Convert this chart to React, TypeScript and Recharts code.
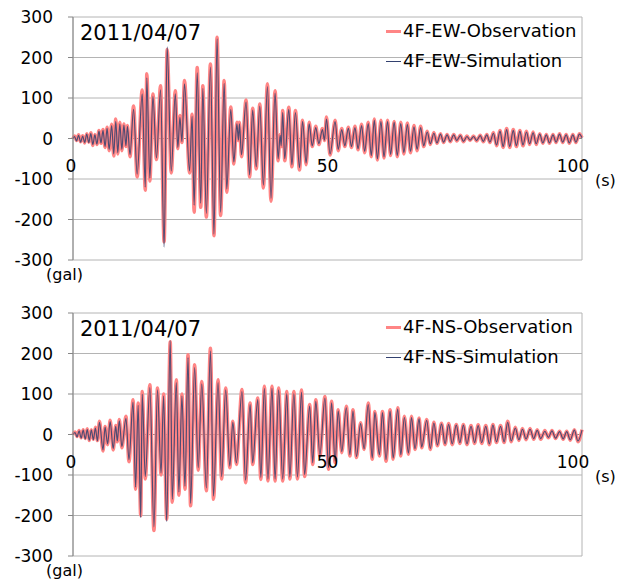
import React from 'react';
import { LineChart, Line, XAxis, YAxis, CartesianGrid, ReferenceLine, ReferenceDot } from 'recharts';

const FONT = '"DejaVu Sans", sans-serif';

// 4F EW record (time in s, acceleration in gal)
const ewTime = [
  0, 0.3, 0.7, 1.1, 1.5, 1.9, 2.3, 2.7, 3.1, 3.5,
  3.9, 4.3, 4.7, 5.1, 5.5, 5.9, 6.3, 6.7, 7.1, 7.6,
  8.0, 8.4, 8.8, 9.2, 9.6, 10.0, 10.4, 10.7, 11.2, 11.9,
  12.6, 13.6, 14.2, 14.5, 15.1, 15.7, 16.4, 17.2, 17.9, 18.5,
  19.3, 20.1, 20.6, 21.0, 21.4, 21.9, 22.9, 23.4, 23.8, 24.4,
  25.1, 25.5, 26.2, 27.0, 27.7, 28.3, 29.0, 29.7, 30.2, 31.0,
  31.6, 32.2, 32.5, 32.7, 33.1, 34.0, 34.7, 35.3, 36.0, 36.7,
  37.4, 38.2, 38.9, 39.7, 40.3, 40.7, 40.9, 41.2, 41.6, 42.4,
  43.0, 43.7, 44.5, 45.1, 45.8, 46.4, 47.0, 47.7, 48.3, 49.0,
  49.4, 49.8, 50.5, 51.5, 52.1, 52.8, 53.4, 54.1, 54.7, 55.4,
  56.0, 56.7, 57.3, 58.0, 58.6, 59.2, 59.8, 60.5, 61.1, 61.8,
  62.4, 63.1, 63.7, 64.4, 65.0, 65.7, 66.3, 67.0, 67.6, 68.3,
  68.9, 69.6, 70.2, 70.9, 71.5, 72.2, 72.8, 73.5, 74.1, 74.8,
  75.4, 76.1, 76.7, 77.4, 78.0, 78.7, 79.3, 80.0, 80.6, 81.3,
  81.9, 82.6, 83.2, 83.9, 84.5, 85.2, 85.8, 86.5, 87.1, 87.8,
  88.4, 89.1, 89.7, 90.4, 91.0, 91.7, 92.3, 93.0, 93.6, 94.3,
  94.9, 95.6, 96.2, 96.9, 97.5, 98.2, 98.8, 99.5, 100,
];
const ewObs = [
  0, 6, -5, 9, -8, 7, -11, 12, -9, 14,
  -17, 10, -15, 20, -12, 22, -22, 28, -30, 35,
  -43, 48, -38, 40, -30, 36, -20, 32, -45, 80,
  -95, 120, -128, 160, -105, 110, -52, 130, -255, 220,
  -85, 118, -25, 57, -10, 143, -85, 60, -182, 175,
  -170, 130, -194, 184, -240, 250, -190, 143, -133, 78,
  -63, 40, -5, 40, -45, 95, -95, 75, -75, 85,
  -122, 135, -155, 118, -55, 10, -20, 69, -55, 77,
  -70, 69, -78, 45, -65, 40, -20, 30, -15, 25,
  -5, 53, -41, 45, -30, 25, -20, 28, -22, 30,
  -28, 35, -35, 40, -45, 48, -53, 45, -48, 45,
  -42, 42, -45, 40, -38, 38, -35, 32, -30, 30,
  -20, 18, -15, 15, -12, 12, -10, 10, -8, 10,
  -6, 8, -8, 6, -5, 6, -6, 8, -8, 10,
  -10, 15, -18, 20, -22, 25, -22, 22, -20, 20,
  -18, 18, -15, 16, -15, 12, -12, 10, -12, 10,
  -10, 12, -10, 10, -12, 10, -10, 12, 2,
];
const ewSim = [
  0, 5, -6, 8, -9, 6, -10, 11, -10, 12,
  -15, 9, -14, 18, -11, 20, -20, 25, -27, 32,
  -38, 42, -35, 36, -27, 33, -18, 30, -40, 72,
  -88, 110, -120, 150, -98, 104, -48, 120, -268, 226,
  -80, 110, -22, 52, -8, 135, -80, 55, -165, 162,
  -160, 124, -185, 176, -236, 246, -182, 136, -125, 72,
  -58, 36, -4, 36, -40, 90, -90, 70, -70, 80,
  -115, 128, -148, 112, -50, 8, -18, 64, -50, 72,
  -65, 64, -72, 42, -60, 36, -18, 27, -13, 22,
  -4, 48, -38, 42, -27, 22, -18, 25, -20, 27,
  -25, 32, -32, 37, -42, 45, -50, 42, -45, 42,
  -39, 40, -42, 37, -35, 35, -32, 29, -27, 27,
  -18, 16, -13, 13, -11, 11, -9, 9, -7, 9,
  -5, 7, -7, 5, -4, 5, -5, 7, -7, 9,
  -9, 13, -16, 18, -20, 22, -20, 20, -18, 18,
  -16, 16, -13, 14, -13, 11, -11, 9, -11, 9,
  -9, 11, -9, 9, -11, 9, -9, 11, 2,
];

// 4F NS record
const nsTime = [
  0, 0.4, 0.8, 1.2, 1.6, 2.0, 2.4, 2.8, 3.2, 3.6,
  4.0, 4.4, 4.8, 5.2, 5.9, 6.3, 6.8, 7.3, 7.9, 8.4,
  8.7, 9.1, 9.6, 10.4, 11.0, 11.8, 12.3, 12.8, 13.3, 13.6,
  14.2, 15.1, 15.9, 16.6, 17.3, 17.8, 18.4, 19.1, 19.5, 20.3,
  20.8, 21.4, 22.0, 22.6, 23.1, 23.9, 24.6, 25.3, 26.2, 27.0,
  27.6, 28.5, 29.2, 30.0, 30.8, 31.4, 32.1, 33.2, 33.9, 34.8,
  35.3, 36.3, 36.9, 37.6, 38.3, 39.1, 39.7, 40.4, 41.2, 42.0,
  42.6, 43.4, 44.1, 44.9, 45.5, 46.5, 47.1, 47.7, 48.5, 49.5,
  50.2, 50.8, 51.5, 52.1, 52.8, 53.7, 54.4, 55.0, 55.7, 56.5,
  57.2, 58.0, 58.8, 59.3, 60.2, 60.8, 61.5, 62.3, 62.9, 63.8,
  64.4, 65.1, 65.9, 66.5, 67.2, 68.0, 68.5, 69.5, 70.2, 70.9,
  71.6, 72.4, 73.1, 73.8, 74.5, 75.3, 76.0, 76.7, 77.4, 78.2,
  78.9, 79.6, 80.3, 81.1, 81.8, 82.5, 83.2, 84.0, 84.7, 85.4,
  86.1, 86.9, 87.6, 88.3, 89.0, 89.8, 90.5, 91.2, 91.9, 92.7,
  93.4, 94.1, 94.8, 95.6, 96.3, 97.0, 97.7, 98.5, 99.2, 100,
];
const nsObs = [
  0, 6, -5, 10, -8, 12, -10, 14, -15, 12,
  -12, 18, -15, 33, -41, 20, -25, 35, -38, 22,
  -18, 37, -33, 45, -67, 86, -135, 78, -200, 106,
  -110, 123, -237, 115, -100, 100, -209, 229, -167, 135,
  -150, 100, -135, 197, -176, 172, -88, 131, -139, 213,
  -160, 135, -110, 115, -82, 33, -74, 111, -119, 78,
  -74, 90, -111, 119, -115, 119, -115, 115, -115, 106,
  -110, 106, -110, 110, -104, 74, -74, 86, -53, 94,
  -86, 82, -70, 61, -45, 70, -53, 61, -57, 29,
  -37, 78, -61, 57, -53, 57, -66, 61, -61, 66,
  -53, 45, -49, 45, -37, 41, -33, 37, -37, 30,
  -28, 28, -25, 27, -25, 25, -22, 25, -25, 22,
  -22, 24, -22, 22, -25, 25, -20, 22, -20, 33,
  -18, 18, -15, 15, -13, 15, -12, 12, -12, 10,
  -8, 10, -10, 8, -12, 8, -14, 12, -18, 12,
];
const nsSim = [
  0, 5, -6, 9, -9, 11, -11, 12, -14, 11,
  -13, 16, -16, 30, -38, 18, -23, 32, -35, 20,
  -16, 34, -30, 40, -62, 80, -130, 72, -205, 100,
  -104, 116, -228, 110, -95, 95, -215, 232, -160, 128,
  -142, 95, -128, 190, -170, 165, -82, 125, -132, 206,
  -152, 128, -104, 110, -78, 30, -70, 106, -113, 74,
  -70, 86, -106, 114, -110, 114, -110, 110, -110, 101,
  -105, 101, -105, 105, -99, 70, -70, 82, -50, 90,
  -82, 78, -66, 58, -42, 66, -50, 58, -54, 27,
  -35, 74, -58, 54, -50, 54, -62, 58, -58, 63,
  -50, 42, -46, 42, -35, 39, -31, 35, -35, 28,
  -26, 26, -23, 25, -23, 23, -20, 23, -23, 20,
  -20, 22, -20, 20, -23, 23, -18, 20, -18, 30,
  -16, 16, -13, 13, -11, 13, -10, 10, -10, 8,
  -7, 9, -9, 7, -11, 7, -13, 11, -16, 11,
];

const yTicks = [-300, -200, -100, 0, 100, 200, 300];
const xGrid = [0, 25, 50, 75, 100];
const xLabels = [0, 50, 100];
const dateLabel = '2011/04/07';

const OBS_COLOR = '#ff8585';
const SIM_COLOR = '#33416f';

const xLabelShift = (v) => (v === 0 ? -2 : v === 100 ? -9 : 0);

const Panel = ({ top, time, obs, sim, obsName, simName }) => {
  const data = time.map((t, i) => ({ t, obs: obs[i], sim: sim[i] }));
  return (
    <div style={{ position: 'absolute', left: 0, top, width: 629, height: 290 }}>
      <LineChart width={629} height={290} data={data} margin={{ top: 17, right: 47, bottom: 30, left: 0 }}>
        <CartesianGrid stroke="#b4b4b4" />
        <XAxis
          type="number"
          dataKey="t"
          domain={[0, 100]}
          ticks={xGrid}
          tick={false}
          tickLine={false}
          axisLine={false}
          height={0}
        />
        <YAxis
          type="number"
          domain={[-300, 300]}
          ticks={yTicks}
          interval={0}
          width={73}
          tickSize={5}
          tickMargin={15}
          tick={{ fontSize: 17, fill: '#000', fontFamily: FONT }}
          axisLine={{ stroke: '#868686' }}
          tickLine={{ stroke: '#868686' }}
        />
        <ReferenceLine y={0} stroke="#868686" />
        <Line type="monotone" dataKey="obs" stroke={OBS_COLOR} strokeWidth={3.5} dot={false} isAnimationActive={false} />
        <Line type="monotone" dataKey="sim" stroke={SIM_COLOR} strokeWidth={1.2} strokeOpacity={0.85} dot={false} isAnimationActive={false} />
        {xLabels.map((v) => (
          <ReferenceDot
            key={v}
            x={v}
            y={0}
            r={0}
            shape={(p) => (
              <g>
                <text x={p.cx + xLabelShift(v)} y={p.cy + 33} textAnchor="middle" fontSize={17} fontFamily={FONT} fill="#000">
                  {v}
                </text>
                {v === 100 && (
                  <text x={p.cx + 13} y={p.cy + 47} fontSize={16} fontFamily={FONT} fill="#000">
                    (s)
                  </text>
                )}
              </g>
            )}
          />
        ))}
      </LineChart>
      <div style={{ position: 'absolute', left: 80, top: 21, fontSize: 21, lineHeight: '24px', fontFamily: FONT }}>
        {dateLabel}
      </div>
      <div style={{ position: 'absolute', left: 386, top: 21, fontSize: 18, lineHeight: '20px', fontFamily: FONT }}>
        <div style={{ display: 'flex', alignItems: 'center', height: 20 }}>
          <span style={{ display: 'inline-block', width: 15, height: 3, background: OBS_COLOR, marginRight: 2 }} />
          {obsName}
        </div>
        <div style={{ display: 'flex', alignItems: 'center', height: 20, marginTop: 10 }}>
          <span style={{ display: 'inline-block', width: 15, height: 1, background: SIM_COLOR, marginRight: 2 }} />
          {simName}
        </div>
      </div>
      <div style={{ position: 'absolute', left: 46, top: 266, fontSize: 16, lineHeight: '18px', fontFamily: FONT }}>
        (gal)
      </div>
    </div>
  );
};

const App = () => (
  <div style={{ position: 'absolute', left: 0, top: 0, width: 629, height: 585, background: '#fff' }}>
    <Panel top={0} time={ewTime} obs={ewObs} sim={ewSim} obsName="4F-EW-Observation" simName="4F-EW-Simulation" />
    <Panel top={296} time={nsTime} obs={nsObs} sim={nsSim} obsName="4F-NS-Observation" simName="4F-NS-Simulation" />
  </div>
);

export default App;
